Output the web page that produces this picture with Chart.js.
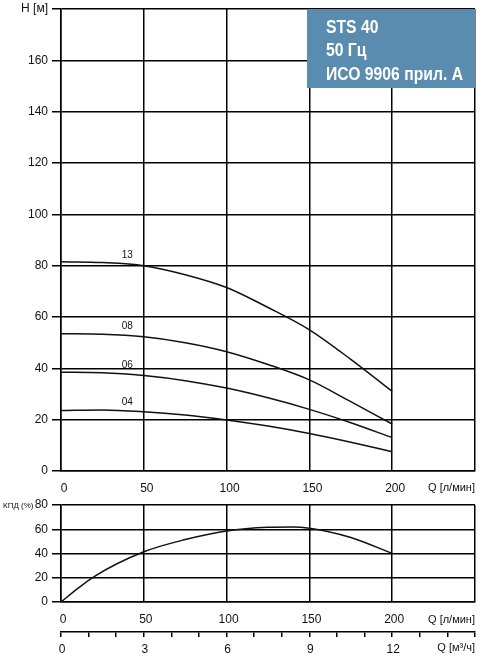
<!DOCTYPE html>
<html>
<head>
<meta charset="utf-8">
<script src="https://cdn.jsdelivr.net/npm/chart.js@4/dist/chart.umd.min.js"></script>
<style>
  body { margin: 0; background: #fff; }
  #wrap { position: relative; width: 482px; height: 658px; }
  canvas { position: absolute; left: 0; }
  #head { top: 0; }
  #eff { top: 495px; }
</style>
</head>
<body>
<div id="wrap">
  <canvas id="head" width="482" height="500"></canvas>
  <canvas id="eff" width="482" height="163"></canvas>
</div>
<script>
// flow in l/min, head in m
const qFlow = [0, 25, 50, 75, 100, 125, 150, 175, 200];
const head13 = [81.5, 81.2, 80, 76.5, 71.5, 63.7, 55, 43.5, 31];
const head08 = [53.5, 53.3, 52.3, 50, 46.5, 41.5, 35.5, 27, 18.3];
const head06 = [38.5, 38.3, 37.2, 35.2, 32.3, 28.5, 24, 18.8, 13];
const head04 = [23.6, 23.8, 23.1, 21.8, 19.9, 17.5, 14.6, 11.2, 7.5];
const curveNames = ['13', '08', '06', '04'];

// efficiency curve
const qEff = [0, 10, 20, 50, 75, 100, 125, 140, 150, 175, 200];
const effValues = [0, 11, 21, 41.4, 51.5, 58.6, 61.6, 61.9, 60.8, 53.2, 40];

const titleLines = ['STS 40', '50 Гц', 'ИСО 9906 прил. А'];
const flowUnit = 'Q [л/мин]';
const flowUnit2 = 'Q [м³/ч]';
const headUnit = 'H [м]';
const effUnit = 'КПД (%)';

const FONT = 'Liberation Sans, Arial, sans-serif';
const INK = '#111';

Chart.defaults.font.family = FONT;
Chart.defaults.color = INK;

const pts = (xs, ys) => xs.map((x, i) => ({ x, y: ys[i] }));

// linear interpolation on a curve, only used to place the curve name
function valueAt(xs, ys, q) {
    for (let i = 1; i < xs.length; i++) {
        if (q <= xs[i]) {
            const t = (q - xs[i - 1]) / (xs[i] - xs[i - 1]);
            return ys[i - 1] + t * (ys[i] - ys[i - 1]);
        }
    }
    return ys[ys.length - 1];
}

const gridOpts = { color: '#000', lineWidth: 1.5 };
// x axes: invisible tick marks give the label gap (ticks.padding would also pad the right side)
const xGrid = { ...gridOpts, drawTicks: true, tickLength: 10, tickColor: 'rgba(0,0,0,0)' };
const yFont = { size: 12, lineHeight: 0.8 };

function lineSet(data) {
    return {
        data, borderColor: INK, borderWidth: 1.5, pointRadius: 0,
        cubicInterpolationMode: 'monotone', fill: false
    };
}

const headSeries = [head13, head08, head06, head04];

const headLabels = {
    id: 'headLabels',
    afterDraw(chart) {
        const { ctx, scales: { x, y } } = chart;
        ctx.save();
        ctx.fillStyle = INK;
        ctx.font = '10px ' + FONT;
        ctx.textAlign = 'center';
        ctx.textBaseline = 'middle';
        headSeries.forEach((s, i) => {
            const q = 40;
            ctx.fillText(curveNames[i], x.getPixelForValue(q), y.getPixelForValue(valueAt(qFlow, s, q)) - 9);
        });

        ctx.font = '11px ' + FONT;
        ctx.textAlign = 'right';
        ctx.fillText(flowUnit, x.right, y.bottom + 17);

        // title box
        const bx = 307, by = y.top, bw = x.right - 307, bh = 79;
        ctx.fillStyle = '#5a8cb0';
        ctx.fillRect(bx, by, bw, bh);
        ctx.fillStyle = '#fff';
        ctx.font = 'bold 18px ' + FONT;
        ctx.textAlign = 'left';
        ctx.textBaseline = 'alphabetic';
        // condensed look: squeeze the text horizontally
        const k = 137 / ctx.measureText(titleLines[2]).width;
        ctx.translate(326, 0);
        ctx.scale(k, 1);
        titleLines.forEach((t, i) => ctx.fillText(t, 0, by + 23.7 + i * 23.5));
        ctx.restore();
    }
};

new Chart(document.getElementById('head'), {
    type: 'line',
    data: { datasets: headSeries.map(s => lineSet(pts(qFlow, s))) },
    options: {
        responsive: false,
        animation: false,
        layout: { padding: { top: 9, right: 7, left: 0, bottom: 0 } },
        plugins: { legend: { display: false }, tooltip: { enabled: false } },
        scales: {
            x: {
                type: 'linear', min: 0, max: 250,
                ticks: { stepSize: 50, padding: 0, labelOffset: 3, font: { size: 12 },
                         callback: v => v === 250 ? '' : v },
                grid: xGrid,
                border: { color: '#000', width: 1.5 },
                afterFit: s => { s.height = 29; }
            },
            y: {
                min: 0, max: 180,
                ticks: { stepSize: 20, padding: 4, font: yFont,
                         callback: v => v === 180 ? headUnit : v },
                grid: { ...gridOpts, tickLength: 9 },
                border: { color: '#000', width: 1.5 },
                afterFit: s => { s.width = 61; }
            }
        }
    },
    plugins: [headLabels]
});

const effLabels = {
    id: 'effLabels',
    afterDraw(chart) {
        const { ctx, scales: { x, x2, y } } = chart;
        ctx.save();
        ctx.fillStyle = INK;
        ctx.textBaseline = 'middle';
        ctx.textAlign = 'right';
        ctx.font = '11px ' + FONT;
        ctx.fillText(flowUnit, x.right, y.bottom + 18);
        ctx.fillText(flowUnit2, x2.right, x2.top + 16);
        ctx.font = '8px ' + FONT;
        ctx.textAlign = 'left';
        ctx.fillText(effUnit, 3, y.top + 1);
        ctx.restore();
    }
};

new Chart(document.getElementById('eff'), {
    type: 'line',
    data: { datasets: [lineSet(pts(qEff, effValues))] },
    options: {
        responsive: false,
        animation: false,
        layout: { padding: { top: 10, right: 7, left: 0, bottom: 0 } },
        plugins: { legend: { display: false }, tooltip: { enabled: false } },
        scales: {
            x: {
                type: 'linear', min: 0, max: 250, weight: 0,
                ticks: { stepSize: 50, padding: 0, labelOffset: 2, font: { size: 12 },
                         callback: v => v === 250 ? '' : v },
                grid: xGrid,
                border: { color: '#000', width: 1.5 },
                afterFit: s => { s.height = 30; }
            },
            x2: {
                type: 'linear', position: 'bottom', min: 0, max: 15, weight: 1,
                ticks: { stepSize: 1, padding: 5, labelOffset: 1, font: { size: 12 },
                         autoSkip: false, maxRotation: 0,
                         callback: v => (v % 3 === 0 && v < 15) ? v : '' },
                grid: { drawOnChartArea: false, color: '#000', lineWidth: 1.5, tickLength: 5 },
                border: { color: '#000', width: 1.5 },
                afterFit: s => { s.height = 26; }
            },
            y: {
                min: 0, max: 80,
                ticks: { stepSize: 20, padding: 4, font: yFont },
                grid: { ...gridOpts, tickLength: 9 },
                border: { color: '#000', width: 1.5 },
                afterFit: s => { s.width = 61; }
            }
        }
    },
    plugins: [effLabels]
});
</script>
</body>
</html>
